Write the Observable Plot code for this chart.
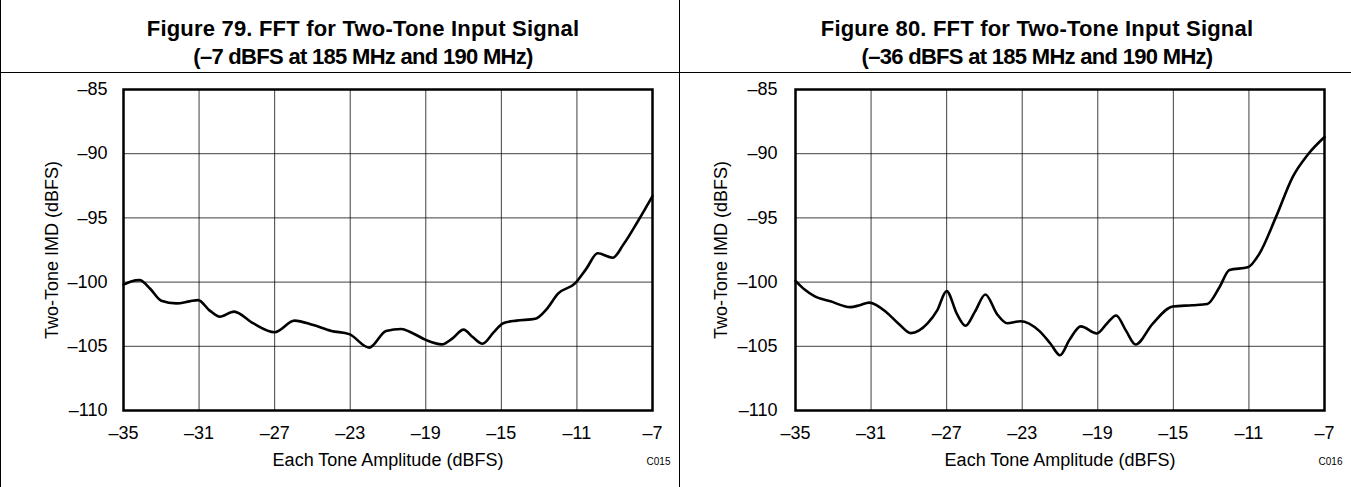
<!DOCTYPE html>
<html>
<head>
<meta charset="utf-8">
<script src="https://cdn.jsdelivr.net/npm/d3@7"></script>
<script src="https://cdn.jsdelivr.net/npm/@observablehq/plot@0.6"></script>
<style>
html, body { margin: 0; padding: 0; background: #fff; }
#page { position: relative; width: 1351px; height: 487px; overflow: hidden; font-family: "Liberation Sans", Arial, sans-serif; color: #000; background: #fff; }
.vline { position: absolute; top: 0; width: 1px; height: 487px; background: #000; }
.hline { position: absolute; left: 0; top: 72px; width: 1351px; height: 1px; background: #000; }
.title { position: absolute; top: 0; height: 72px; box-sizing: border-box; padding-top: 15px; font-weight: bold; font-size: 22px; line-height: 28px; text-align: center; white-space: nowrap; }
.title .l1 { letter-spacing: 0.2px; }
.title .l2 { letter-spacing: -0.7px; }
.chart { position: absolute; top: 73px; }
</style>
</head>
<body>
<div id="page">
  <div class="title" id="t1" style="left:0; width:726px;"></div>
  <div class="title" id="t2" style="left:679px; width:716px;"></div>
  <div class="chart" id="c1" style="left:0;"></div>
  <div class="chart" id="c2" style="left:679px;"></div>
  <div class="vline" style="left:0;"></div>
  <div class="vline" style="left:679px;"></div>
  <div class="hline"></div>
</div>
<script>
// ---- Data ----
const titles1 = ["Figure 79. FFT for Two-Tone Input Signal", "(\u20137 dBFS at 185 MHz and 190 MHz)"];
const titles2 = ["Figure 80. FFT for Two-Tone Input Signal", "(\u201336 dBFS at 185 MHz and 190 MHz)"];
const xTitle = "Each Tone Amplitude (dBFS)";
const yTitle = "Two-Tone IMD (dBFS)";
const codes = ["C015", "C016"];
const xTicks = [-35, -31, -27, -23, -19, -15, -11, -7];
const yTicks = [-110, -105, -100, -95, -90, -85];

const amp1 = [-35, -34.6, -34.15, -33.6, -33.0, -32.2, -31.5, -31.05, -30.45, -29.9, -29.15, -28.15, -27.0, -25.95, -24.95, -24.0, -23.05, -22.0, -21.1, -20.3, -19.8, -19.0, -18.15, -17.6, -17.0, -16.5, -16.0, -15.4, -14.9, -14.2, -13.2, -12.6, -12.0, -11.1, -10.5, -9.9, -9.1, -8.55, -7.75, -7.0];
const imd1 = [-100.2, -99.95, -99.85, -100.5, -101.45, -101.66, -101.5, -101.4, -102.2, -102.7, -102.3, -103.2, -103.9, -103.0, -103.35, -103.8, -104.05, -105.1, -103.8, -103.65, -103.9, -104.5, -104.85, -104.4, -103.7, -104.3, -104.8, -103.9, -103.2, -103.0, -102.85, -102.1, -100.9, -100.1, -98.95, -97.75, -98.1, -97.1, -95.2, -93.3];

const amp2 = [-35, -34.5, -34.0, -33.15, -32.1, -31.6, -31.1, -30.15, -29.5, -28.9, -28.0, -27.5, -27.0, -26.45, -26.0, -25.5, -24.95, -24.33, -23.8, -23.1, -22.1, -21.5, -21.0, -20.5, -19.9, -19.05, -18.5, -18.03, -17.5, -17.0, -16.1, -15.03, -14.0, -13.2, -12.56, -12.03, -11.06, -10.45, -9.56, -8.68, -7.9, -7.0];
const imd2 = [-99.9, -100.6, -101.1, -101.5, -101.95, -101.8, -101.6, -102.4, -103.3, -103.97, -103.2, -102.2, -100.7, -102.5, -103.4, -102.3, -100.96, -102.5, -103.2, -103.05, -103.8, -104.8, -105.7, -104.5, -103.45, -104.0, -103.2, -102.6, -103.8, -104.86, -103.25, -101.9, -101.8, -101.7, -100.4, -99.05, -98.85, -97.8, -94.9, -91.8, -90.1, -88.7];

// ---- Rendering ----
const fmt = d => (d < 0 ? "\u2013" : "") + Math.abs(d);

function makeChart(xs, ys, code, width, marginLeft, yTitleDx, yTickPad) {
  const data = xs.map((x, i) => ({x, y: ys[i]}));
  return Plot.plot({
    width,
    height: 414,
    marginLeft,
    marginRight: 27,
    marginTop: 16,
    marginBottom: 77,
    x: {domain: [-35, -7]},
    y: {domain: [-110, -85]},
    style: {fontFamily: '"Liberation Sans", Arial, sans-serif', fontSize: "18px", color: "#000", background: "#fff", overflow: "visible"},
    marks: [
      Plot.gridX(xTicks, {stroke: "#000", strokeOpacity: 0.75, strokeWidth: 1}),
      Plot.gridY(yTicks, {stroke: "#000", strokeOpacity: 0.75, strokeWidth: 1}),
      Plot.line(data, {x: "x", y: "y", stroke: "#000", strokeWidth: 2.6, curve: "monotone-x"}),
      Plot.frame({stroke: "#000", strokeWidth: 2.5}),
      Plot.axisX({ticks: xTicks, tickSize: 0, tickPadding: 16, tickFormat: fmt, label: null, fontSize: 18}),
      Plot.axisY({ticks: yTicks, tickSize: 0, tickPadding: yTickPad, tickFormat: fmt, label: null, fontSize: 18}),
      Plot.text([xTitle], {text: d => d, frameAnchor: "bottom", textAnchor: "middle", dy: 55, fontSize: 18}),
      Plot.text([yTitle], {text: d => d, frameAnchor: "left", textAnchor: "middle", dx: yTitleDx, rotate: -90, fontSize: 18}),
      Plot.text([code], {text: d => d, frameAnchor: "bottom-right", textAnchor: "middle", dx: 6, dy: 54, fontSize: 10})
    ]
  });
}

function setTitle(id, lines) {
  const el = document.getElementById(id);
  lines.forEach((t, i) => {
    const s = document.createElement("span");
    s.className = i === 0 ? "l1" : "l2";
    s.textContent = t;
    el.appendChild(s);
    if (i < lines.length - 1) el.appendChild(document.createElement("br"));
  });
}

setTitle("t1", titles1);
setTitle("t2", titles2);
document.getElementById("c1").appendChild(makeChart(amp1, imd1, codes[0], 679, 123, -71, 16));
document.getElementById("c2").appendChild(makeChart(amp2, imd2, codes[1], 672, 116, -74, 18));
</script>
</body>
</html>
